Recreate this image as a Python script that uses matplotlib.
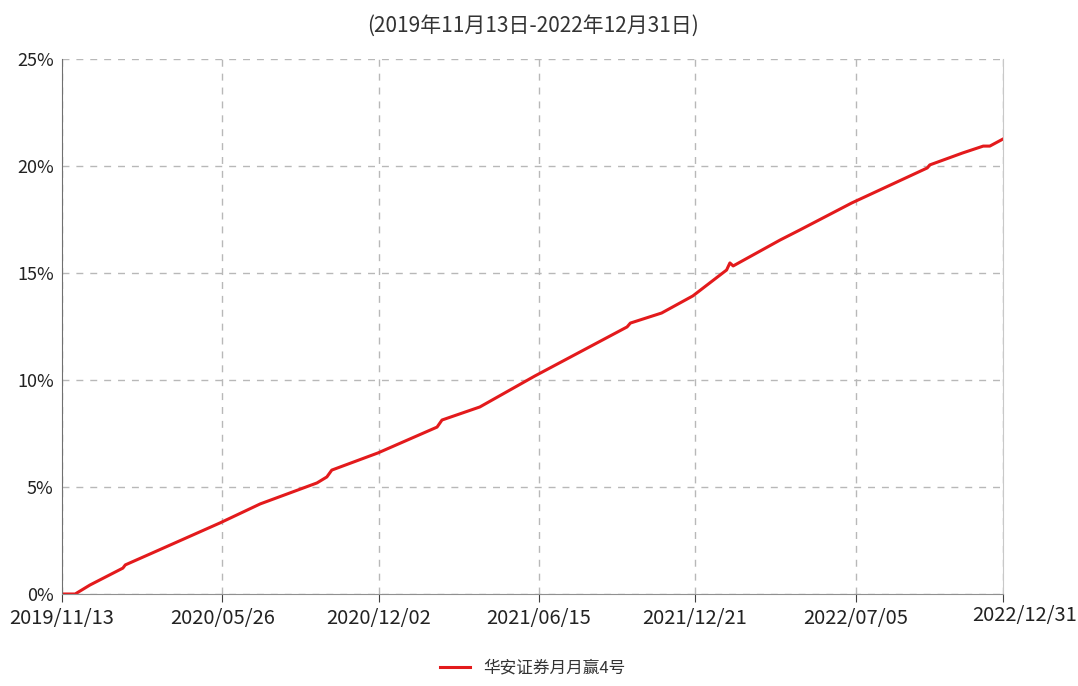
import matplotlib.pyplot as plt
import matplotlib.transforms as mtransforms
import pandas as pd

# 字体：中文用 Noto Sans CJK SC
plt.rcParams['font.family'] = ['Noto Sans CJK SC', 'DejaVu Sans']

# 数据（从图上读取的累计收益率，%）
fechas = ['2019-11-13', '2019-11-29', '2019-12-17', '2020-01-26', '2020-01-29',
          '2020-02-28', '2020-05-23', '2020-07-11', '2020-09-18', '2020-09-30',
          '2020-10-06', '2020-12-01', '2021-02-11', '2021-02-17', '2021-04-04',
          '2021-06-10', '2021-09-30', '2021-10-04', '2021-11-11', '2021-12-19',
          '2022-01-29', '2022-02-02', '2022-02-06', '2022-04-04', '2022-04-28',
          '2022-06-30', '2022-09-30', '2022-10-03', '2022-11-12', '2022-12-07',
          '2022-12-15', '2022-12-31']
rendimiento = [0.00, 0.00, 0.42, 1.21, 1.36,
               1.87, 3.32, 4.21, 5.19, 5.47,
               5.79, 6.59, 7.80, 8.13, 8.74,
               10.19, 12.48, 12.66, 13.13, 13.93,
               15.14, 15.47, 15.33, 16.54, 17.01,
               18.27, 19.91, 20.05, 20.61, 20.93,
               20.93, 21.26]

ticks_x = ['2019/11/13', '2020/05/26', '2020/12/02', '2021/06/15',
           '2021/12/21', '2022/07/05', '2022/12/31']
ticks_y = [0, 5, 10, 15, 20, 25]
nombre_serie = '华安证券月月赢4号'
titulo = '(2019年11月13日-2022年12月31日)'

x = pd.to_datetime(fechas)
xt = pd.to_datetime(ticks_x, format='%Y/%m/%d')

fig = plt.figure(figsize=(10.78, 6.86), dpi=100)
ax = fig.add_axes([0.0575, 0.1341, 0.8729, 0.7799])

ax.plot(x, rendimiento, color='#e31a1c', linewidth=2.2, label=nombre_serie)

ax.set_xlim(xt[0], xt[-1])
ax.set_ylim(0, 25)
ax.set_xticks(xt)
ax.set_xticklabels(ticks_x)
ax.set_yticks(ticks_y)
ax.set_yticklabels([f'{v}%' for v in ticks_y])

# 网格和边框
ax.grid(True, color='#b8b8b8', linestyle=(0, (5, 5)), linewidth=1.0)
ax.spines['top'].set_visible(False)
ax.spines['left'].set_color('#707070')
ax.spines['bottom'].set_color('#909090')
ax.spines['right'].set_color('#c8c8c8')
ax.tick_params(axis='x', length=6, color='#404040', labelsize=14.5, pad=4,
               labelcolor='#222222')
ax.tick_params(axis='y', length=0, labelsize=13, pad=6, labelcolor='#222222')

# 最后一个日期标签稍微右移
ultimo = ax.get_xticklabels()[-1]
ultimo.set_transform(ultimo.get_transform() +
                     mtransforms.ScaledTranslation(0.22, 0.03, fig.dpi_scale_trans))

fig.text(0.494, 0.962, titulo, ha='center', va='center', fontsize=15,
         color='#333333')

ax.legend(loc='upper center', bbox_to_anchor=(0.5, -0.095), frameon=False,
          fontsize=12, handlelength=1.8, labelcolor='#333333')

fig.savefig('out.png', dpi=100)
